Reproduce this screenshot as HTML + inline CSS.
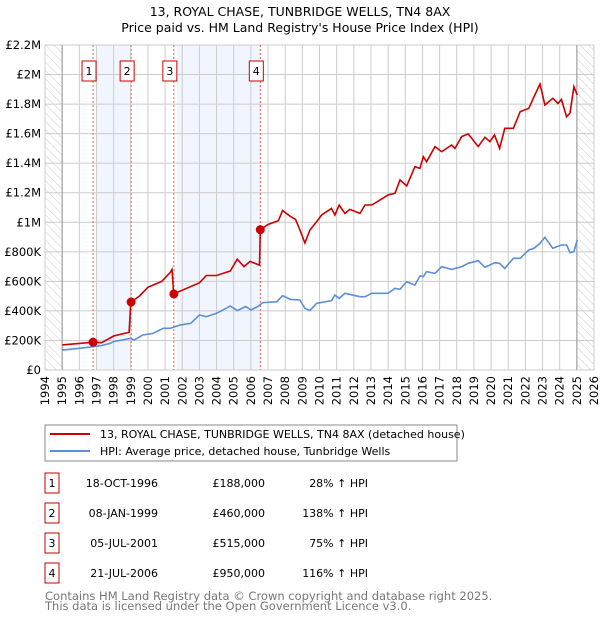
<!DOCTYPE html>
<html><head><meta charset="utf-8"><style>
body{margin:0;background:#fff;font-family:"DejaVu Sans","Liberation Sans",sans-serif;}
svg text{font-family:"DejaVu Sans","Liberation Sans",sans-serif;}
</style></head><body>
<svg id="c" width="600" height="620" viewBox="0 0 600 620" xmlns="http://www.w3.org/2000/svg">
<defs><pattern id="hatch" width="6" height="6" patternUnits="userSpaceOnUse" patternTransform="rotate(-45)"><line x1="0" y1="0" x2="0" y2="6" stroke="#ccc" stroke-width="1"/></pattern></defs>
<text x="300" y="16" text-anchor="middle" font-size="12.5">13, ROYAL CHASE, TUNBRIDGE WELLS, TN4 8AX</text>
<text x="300" y="32" text-anchor="middle" font-size="12.5">Price paid vs. HM Land Registry's House Price Index (HPI)</text>
<g id="plot"></g>
<rect x="45" y="425" width="412" height="36" fill="#fff" stroke="#888"/>
<line x1="50" y1="434" x2="90" y2="434" stroke="#cc0000" stroke-width="2"/>
<text x="100" y="438" font-size="11">13, ROYAL CHASE, TUNBRIDGE WELLS, TN4 8AX (detached house)</text>
<line x1="50" y1="451" x2="90" y2="451" stroke="#5b8fd6" stroke-width="2"/>
<text x="100" y="455" font-size="11">HPI: Average price, detached house, Tunbridge Wells</text>
<g id="table"></g>
<text x="45" y="600" font-size="11.5" fill="#777">Contains HM Land Registry data © Crown copyright and database right 2025.</text>
<text x="45" y="610" font-size="11.5" fill="#777">This data is licensed under the Open Government Licence v3.0.</text>
</svg>
<script>
const redYears=[1995,1996,1996.8,1997.3,1998,1998.9,1999.0,1999.5,2000,2000.8,2001.3,2001.4,2001.5,2002,2003,2003.4,2004,2004.8,2005.2,2005.6,2005.95,2006.5,2006.55,2007,2007.6,2007.85,2008.3,2008.6,2008.86,2009.15,2009.44,2009.83,2010.12,2010.7,2010.9,2011.15,2011.48,2011.77,2012.36,2012.65,2013.04,2013.52,2014.0,2014.4,2014.69,2015.08,2015.56,2015.85,2016.05,2016.24,2016.73,2017.12,2017.7,2017.9,2018.28,2018.67,2019.25,2019.64,2019.93,2020.2,2020.5,2020.8,2021.3,2021.7,2022.2,2022.5,2022.85,2023.14,2023.6,2023.9,2024.1,2024.4,2024.6,2024.83,2025.02];
const redVals=[170,180,188,185,230,255,460,500,560,600,660,680,515,540,590,640,640,670,750,700,735,710,950,985,1010,1080,1040,1020,948,860,948,1004,1049,1094,1049,1117,1060,1087,1060,1117,1117,1150,1185,1196,1286,1246,1376,1365,1444,1410,1512,1478,1523,1500,1580,1598,1512,1575,1546,1591,1500,1636,1636,1749,1771,1850,1936,1794,1839,1805,1832,1714,1740,1918,1862];
const hpiYears=[1995,1996,1996.8,1997.3,1997.8,1998,1999,1999.2,1999.7,2000.3,2000.9,2001.3,2001.9,2002.5,2003,2003.4,2004,2004.8,2005.2,2005.7,2006,2006.4,2006.7,2007.5,2007.85,2008.3,2008.86,2009.15,2009.44,2009.83,2010.7,2010.9,2011.15,2011.48,2012.36,2012.65,2013.04,2014.0,2014.4,2014.69,2015.08,2015.56,2015.85,2016.05,2016.24,2016.73,2017.12,2017.7,2018.28,2018.67,2019.25,2019.64,2020.2,2020.5,2020.8,2021.3,2021.7,2022.2,2022.5,2022.85,2023.14,2023.6,2024.1,2024.4,2024.6,2024.83,2025.02];
const hpiVals=[135,147,158,166,180,192,214,203,237,248,282,282,305,316,372,361,384,433,402,429,406,429,456,462,503,478,474,417,402,451,469,507,485,519,496,496,519,519,553,546,598,575,636,632,666,654,699,681,699,722,740,695,726,722,688,756,756,812,824,858,898,824,846,846,794,801,880,862];
const saleLabels=["1","2","3","4"];
const saleYears=[1996.8,1999.02,2001.51,2006.55];
const saleVals=[188,460,515,950];
const saleDates=["18-OCT-1996","08-JAN-1999","05-JUL-2001","21-JUL-2006"];
const salePrices=["£188,000","£460,000","£515,000","£950,000"];
const saleHpi=["28% ↑ HPI","138% ↑ HPI","75% ↑ HPI","116% ↑ HPI"];
const yTicks=[0,200,400,600,800,1000,1200,1400,1600,1800,2000,2200];
const yTickLabels=["£0","£200K","£400K","£600K","£800K","£1M","£1.2M","£1.4M","£1.6M","£1.8M","£2M","£2.2M"];

const L=45,R=594,T=45,B=370,x0=1994,x1=2026,vmax=2200;
const X=y=>L+(y-x0)/(x1-x0)*(R-L);
const Y=v=>B-v/vmax*(B-T);
const NS="http://www.w3.org/2000/svg";
const g=document.getElementById('plot');
function mk(tag,at,par){const e=document.createElementNS(NS,tag);for(const k in at)e.setAttribute(k,at[k]);(par||g).appendChild(e);return e;}
// hatch
let e=mk('rect',{x:L,y:T,width:X(1995)-L,height:B-T,fill:'url(#hatch)'});


e=mk('rect',{x:X(2025),y:T,width:R-X(2025),height:B-T,fill:'url(#hatch)'});


// shaded bands
[[0,1],[2,3]].forEach((p,i)=>{e=mk('rect',{x:X(saleYears[p[0]])+3,y:T,width:X(saleYears[p[1]])-X(saleYears[p[0]])-3,height:B-T,fill:'#eef3fc',opacity:0.8});

});
// grid
for(let yr=x0;yr<=x1;yr++){e=mk('line',{x1:X(yr),x2:X(yr),y1:T,y2:B,stroke:'#ccc','stroke-width':1});


const t=mk('text',{x:0,y:0,'font-size':11.5,'text-anchor':'end',transform:`translate(${X(yr)+4},${B+6}) rotate(-90)`});t.textContent=yr;

}
yTicks.forEach((v,i)=>{e=mk('line',{x1:L,x2:R,y1:Y(v),y2:Y(v),stroke:'#ccc','stroke-width':1});


const t=mk('text',{x:L-4,y:Y(v)+4,'font-size':11.5,'text-anchor':'end'});t.textContent=yTickLabels[i];

});
e=mk('line',{x1:X(1995),x2:X(1995),y1:T,y2:B,stroke:'#999'});


e=mk('line',{x1:X(2025),x2:X(2025),y1:T,y2:B,stroke:'#999'});


// sale lines and boxes
saleYears.forEach((s,i)=>{e=mk('line',{x1:X(s),x2:X(s),y1:T,y2:B,stroke:'#e55','stroke-width':1,'stroke-dasharray':'2,2'});


e=mk('rect',{x:X(s)-11,y:61,width:14,height:20,fill:'#fff',stroke:'#cc0000'});


const t=mk('text',{x:X(s)-4,y:75,'font-size':11,'text-anchor':'middle'});t.textContent=saleLabels[i];

});
// lines
const pts=(xs,vs)=>xs.map((y,i)=>X(y).toFixed(1)+','+Y(vs[i]).toFixed(1)).join(' ');
e=mk('polyline',{points:pts(hpiYears,hpiVals),fill:'none',stroke:'#5b8fd6','stroke-width':1.6});


e=mk('polyline',{points:pts(redYears,redVals),fill:'none',stroke:'#cc0000','stroke-width':1.6});


saleYears.forEach((s,i)=>{e=mk('circle',{cx:X(s),cy:Y(saleVals[i]),r:4.5,fill:'#cc0000'});

});
// table
const tb=document.getElementById('table');
saleLabels.forEach((l,i)=>{const cy=483+i*30;
e=mk('rect',{x:45,y:cy-10,width:14,height:20,fill:'#fff',stroke:'#cc0000'},tb);


const cols=[[52,l,'middle'],[158,saleDates[i],'end'],[265,salePrices[i],'end'],[368,saleHpi[i],'end']];
cols.forEach(c=>{const t=mk('text',{x:c[0],y:cy+4,'font-size':11,'text-anchor':c[2]},tb);t.textContent=c[1];

});});
</script>
</body></html>
